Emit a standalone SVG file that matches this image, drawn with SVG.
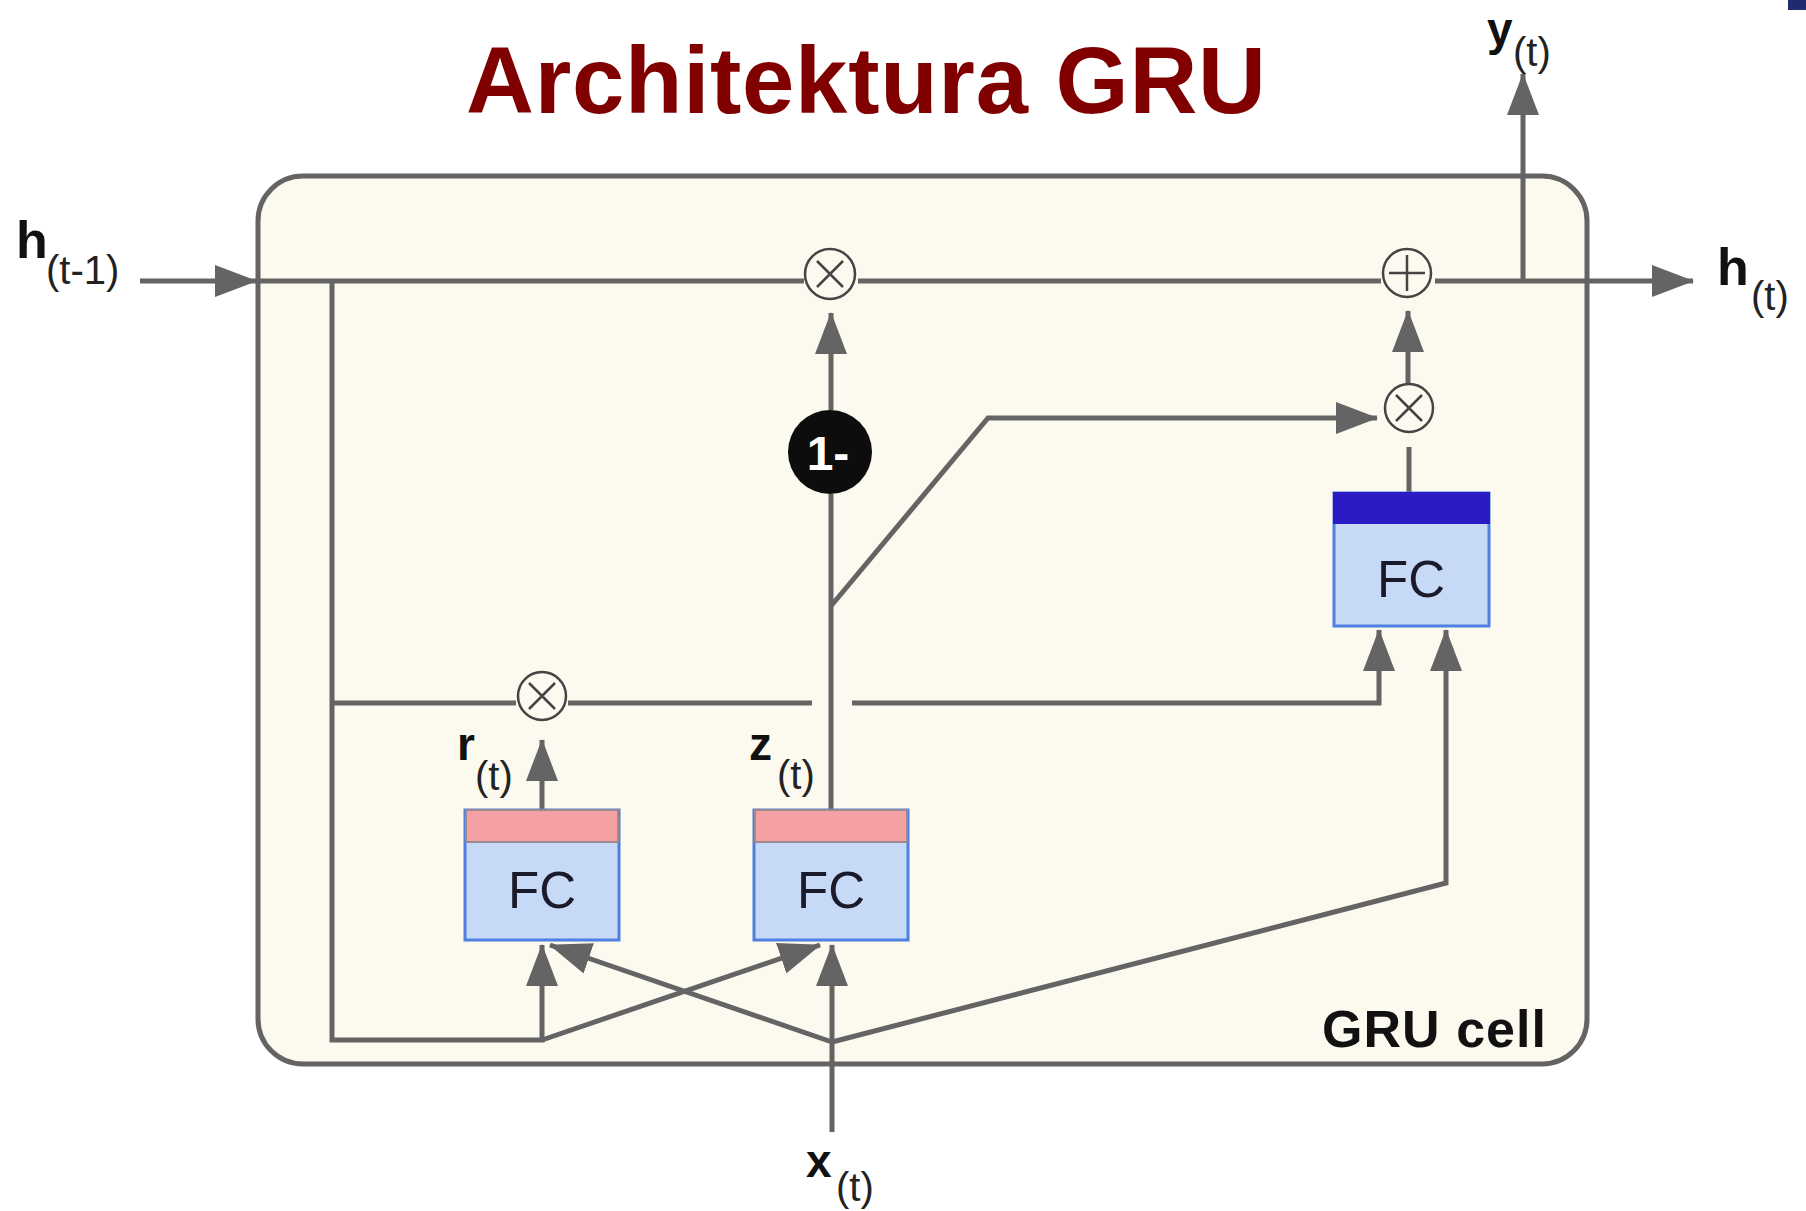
<svg xmlns="http://www.w3.org/2000/svg" width="1806" height="1211" viewBox="0 0 1806 1211">
<style>
.ln{fill:none;stroke:#646464;stroke-width:5;stroke-linejoin:miter;stroke-linecap:butt}
.op{fill:none;stroke:#444;stroke-width:2.5}
.lbl{font-family:"Liberation Sans",Arial,sans-serif;fill:#111;font-weight:bold}
.sub{font-family:"Liberation Sans",Arial,sans-serif;fill:#222;font-size:40px}
.fcb{fill:#c6d9f6;stroke:#4f7fe0;stroke-width:3}
.fct{font-family:"Liberation Sans",Arial,sans-serif;fill:#1a1a2a;font-size:51px;text-anchor:middle}
.pink{fill:#f5a0a2;stroke:#9a8a90;stroke-width:2}
</style>
<defs>
<marker id="ah" markerUnits="userSpaceOnUse" markerWidth="42" markerHeight="32" viewBox="0 0 42 32" refX="41" refY="16" orient="auto">
<path d="M0,0 L42,16 L0,32 z" fill="#646464"/>
</marker>
</defs>
<rect width="1806" height="1211" fill="#ffffff"/>
<rect x="1788" y="0" width="18" height="10" fill="#1f2b6e"/>
<text x="866" y="113" font-family="'Liberation Sans',Arial,sans-serif" font-weight="bold" font-size="94" fill="#800000" text-anchor="middle" textLength="800">Architektura GRU</text>

<g id="cell">
<rect x="258" y="176" width="1329" height="888" rx="45" ry="45" fill="#fcf9ef" stroke="#646464" stroke-width="5"/>
<text class="lbl" x="1322" y="1047" font-size="52" textLength="224">GRU cell</text>
</g>

<g id="connectors">
<path class="ln" d="M140,281 L256,281" marker-end="url(#ah)"/>
<path class="ln" d="M258,281 L804,281"/>
<path class="ln" d="M858,281 L1381,281"/>
<path class="ln" d="M1435,281 L1693,281" marker-end="url(#ah)"/>
<path class="ln" d="M1523,281 L1523,74" marker-end="url(#ah)"/>
<path class="ln" d="M332,281 L332,1040 L542,1040 L542,945" marker-end="url(#ah)"/>
<path class="ln" d="M332,703 L516,703"/>
<path class="ln" d="M568,703 L812,703"/>
<path class="ln" d="M852,703 L1379,703 L1379,630" marker-end="url(#ah)"/>
<path class="ln" d="M542,810 L542,740" marker-end="url(#ah)"/>
<path class="ln" d="M831,810 L831,494"/>
<path class="ln" d="M831,410 L831,313" marker-end="url(#ah)"/>
<path class="ln" d="M831,606 L988,418 L1377,418" marker-end="url(#ah)"/>
<path class="ln" d="M1408,384 L1408,311" marker-end="url(#ah)"/>
<path class="ln" d="M1409,493 L1409,447"/>
<path class="ln" d="M832,1132 L832,945" marker-end="url(#ah)"/>
<path class="ln" d="M832,1042 L550,945" marker-end="url(#ah)"/>
<path class="ln" d="M542,1040 L820,945" marker-end="url(#ah)"/>
<path class="ln" d="M832,1042 L1446,883 L1446,630" marker-end="url(#ah)"/>
</g>

<g id="mul1">
<circle class="op" cx="830" cy="274" r="25"/>
<path class="op" d="M817,261 L843,287 M843,261 L817,287"/>
</g>
<g id="add">
<circle class="op" cx="1407" cy="273" r="24"/>
<path class="op" d="M1407,255 L1407,291 M1389,273 L1425,273"/>
</g>
<g id="mul2">
<circle class="op" cx="1409" cy="408" r="24"/>
<path class="op" d="M1396,395 L1422,421 M1422,395 L1396,421"/>
</g>
<g id="mulr">
<circle class="op" cx="542" cy="696" r="24"/>
<path class="op" d="M529,683 L555,709 M555,683 L529,709"/>
</g>
<g id="oneminus">
<circle cx="830" cy="452" r="42" fill="#0d0d0d"/>
<text x="828" y="470" font-family="'Liberation Sans',Arial,sans-serif" font-weight="bold" font-size="48" fill="#ffffff" text-anchor="middle">1-</text>
</g>

<g id="fc-r">
<rect class="fcb" x="465" y="810" width="154" height="130"/>
<rect class="pink" x="466" y="810" width="152" height="32"/>
<text class="fct" x="542" y="908">FC</text>
</g>
<g id="fc-z">
<rect class="fcb" x="754" y="810" width="154" height="130"/>
<rect class="pink" x="755" y="810" width="152" height="32"/>
<text class="fct" x="831" y="908">FC</text>
</g>
<g id="fc-h">
<rect class="fcb" x="1334" y="493" width="155" height="133"/>
<rect x="1334" y="493" width="155" height="30" fill="#2a1cc2" stroke="#2a1cc2" stroke-width="2"/>
<text class="fct" x="1411" y="597">FC</text>
</g>

<g id="label-h-prev">
<text class="lbl" x="16" y="258" font-size="52">h</text>
<text class="sub" x="46" y="284">(t-1)</text>
</g>
<g id="label-h">
<text class="lbl" x="1717" y="285" font-size="52">h</text>
<text class="sub" x="1751" y="310">(t)</text>
</g>
<g id="label-y">
<text class="lbl" x="1487" y="45" font-size="46">y</text>
<text class="sub" x="1513" y="66" font-size="38">(t)</text>
</g>
<g id="label-r">
<text class="lbl" x="457" y="760" font-size="46">r</text>
<text class="sub" x="475" y="790">(t)</text>
</g>
<g id="label-z">
<text class="lbl" x="749" y="760" font-size="46">z</text>
<text class="sub" x="777" y="789">(t)</text>
</g>
<g id="label-x">
<text class="lbl" x="806" y="1177" font-size="46">x</text>
<text class="sub" x="836" y="1201">(t)</text>
</g>
</svg>
